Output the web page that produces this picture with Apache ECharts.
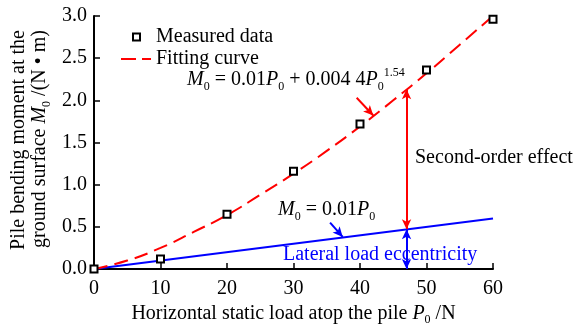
<!DOCTYPE html>
<html><head><meta charset="utf-8">
<script src="https://cdn.jsdelivr.net/npm/echarts@6/dist/echarts.min.js"></script>
<style>html,body{margin:0;padding:0;background:#fff}#c{width:574px;height:329px}</style>
</head><body><div id="c"></div>
<script>
// ---- data ----
const loadP0 = [0, 10, 20, 30, 40, 50, 60];
const measuredM0 = [0, 0.12, 0.65, 1.16, 1.72, 2.36, 2.96];
const fitP0 = [0, 5, 10, 15, 20, 25, 30, 35, 40, 45, 50, 55, 60];
const fitM0 = [0, 0.10, 0.25, 0.44, 0.64, 0.88, 1.13, 1.40, 1.69, 2.00, 2.32, 2.66, 3.00];
const eccP0 = [0, 60];
const eccM0 = [0, 0.6];
const arrowP0 = 47, arrowLow = 0.47, arrowHigh = 2.13;
const fitPointer = [[39.5, 2.03], [42, 1.82]];
const eccPointer = [[35.5, 0.55], [37.4, 0.38]];
const xTicks = {min: 0, max: 60, interval: 10};
const yTicks = {min: 0, max: 3, interval: 0.5};

const FONT = "'Liberation Serif','Times New Roman',serif";
const RED = '#ff0000', BLUE = '#0000ff';

const chart = echarts.init(document.getElementById('c'));
const zip = (a, b) => a.map((v, i) => [v, b[i]]);

const subRich = {
  i: {fontStyle: 'italic', fontSize: 20, fontFamily: FONT, lineHeight: 26, verticalAlign: 'middle'},
  n: {fontSize: 20, fontFamily: FONT, lineHeight: 26, verticalAlign: 'middle'},
  sub: {fontSize: 12, fontFamily: FONT, lineHeight: 12, verticalAlign: 'bottom'},
  sup: {fontSize: 12, fontFamily: FONT, lineHeight: 12, verticalAlign: 'top'}
};
function richFill(color) {
  const r = {};
  for (const k in subRich) r[k] = Object.assign({fill: color}, subRich[k]);
  return r;
}

const option = {
  animation: false,
  backgroundColor: '#fff',
  grid: {left: 94, right: 81, top: 16, bottom: 60, containLabel: false, outerBoundsMode: 'none'},
  xAxis: {
    type: 'value', min: xTicks.min, max: xTicks.max, interval: xTicks.interval,
    axisLine: {lineStyle: {color: '#000', width: 2}},
    axisTick: {inside: true, length: 6, lineStyle: {color: '#000', width: 1.5}},
    axisLabel: {color: '#000', fontFamily: FONT, fontSize: 20, margin: 10},
    splitLine: {show: false},
    name: '{n|Horizontal static load atop the pile }{i|P}{sub|0}{n| /N}',
    nameLocation: 'middle', nameGap: 32,
    nameTextStyle: {
      color: '#000', fontFamily: FONT, fontSize: 20,
      rich: {
        n: {fontFamily: FONT, fontSize: 20, color: '#000', lineHeight: 24, verticalAlign: 'middle'},
        i: {fontFamily: FONT, fontSize: 20, color: '#000', fontStyle: 'italic', lineHeight: 24, verticalAlign: 'middle'},
        sub: {fontFamily: FONT, fontSize: 12, color: '#000', lineHeight: 12, verticalAlign: 'bottom'}
      }
    }
  },
  yAxis: {
    type: 'value', min: yTicks.min, max: yTicks.max, interval: yTicks.interval,
    axisLine: {show: true, lineStyle: {color: '#000', width: 2}},
    axisTick: {show: true, inside: true, length: 6, lineStyle: {color: '#000', width: 1.5}},
    axisLabel: {color: '#000', fontFamily: FONT, fontSize: 20, margin: 7, formatter: v => v.toFixed(1)},
    splitLine: {show: false}
  },
  legend: [
    {
      data: [{name: 'Measured data', icon: 'rect', itemStyle: {color: '#fff', borderColor: '#000', borderWidth: 2}}],
      left: 132, top: 27, padding: 0, itemWidth: 7, itemHeight: 7,
      textStyle: {color: '#000', fontFamily: FONT, fontSize: 20, padding: [0, 0, 0, 11]}
    },
    {
      data: [{name: 'Fitting curve', icon: 'path://M0,0H15V2H0Z M21,0H30V2H21Z',
              itemStyle: {color: RED, borderWidth: 0}}],
      left: 121, top: 49, padding: 0, itemWidth: 30, itemHeight: 2,
      textStyle: {color: '#000', fontFamily: FONT, fontSize: 20, padding: [0, 0, 0, 0]}
    }
  ],
  series: [
    {
      name: 'Lateral load eccentricity', type: 'line', data: zip(eccP0, eccM0),
      showSymbol: false, symbol: 'none', lineStyle: {color: BLUE, width: 2}, z: 2,
      markLine: {
        silent: true, label: {show: false}, symbolSize: [7, 10],
        data: [
          [{coord: [arrowP0, arrowLow], symbol: 'arrow', lineStyle: {color: RED, width: 2, type: 'solid'}, itemStyle: {color: RED}},
           {coord: [arrowP0, arrowHigh], symbol: 'arrow'}],
          [{coord: [arrowP0, arrowLow], symbol: 'arrow', lineStyle: {color: BLUE, width: 2, type: 'solid'}, itemStyle: {color: BLUE}},
           {coord: [arrowP0, 0], symbol: 'arrow'}],
          [{coord: fitPointer[0], symbol: 'none', lineStyle: {color: RED, width: 2, type: 'solid'}, itemStyle: {color: RED}},
           {coord: fitPointer[1], symbol: 'arrow'}],
          [{coord: eccPointer[0], symbol: 'none', lineStyle: {color: BLUE, width: 2, type: 'solid'}, itemStyle: {color: BLUE}},
           {coord: eccPointer[1], symbol: 'arrow'}]
        ]
      }
    },
    {
      name: 'Fitting curve', type: 'line', data: zip(fitP0, fitM0), smooth: true,
      showSymbol: false, symbol: 'none', itemStyle: {color: RED},
      lineStyle: {color: RED, width: 2, type: [14, 7]}, z: 3
    },
    {
      name: 'Measured data', type: 'scatter', data: zip(loadP0, measuredM0),
      symbol: 'rect', symbolSize: 7,
      itemStyle: {color: '#fff', borderColor: '#000', borderWidth: 2, opacity: 1}, z: 5
    }
  ],
  graphic: [
    {type: 'text', x: 19, y: 140, rotation: Math.PI / 2,
     style: {text: 'Pile bending moment at the', fill: '#000', font: '20px ' + FONT, align: 'center', verticalAlign: 'middle'}},
    {type: 'text', x: 40, y: 139, rotation: Math.PI / 2,
     style: {text: '{n|ground surface }{i|M}{sub|0}{n| /(N • m)}', fill: '#000', font: '20px ' + FONT,
             align: 'center', verticalAlign: 'middle', rich: richFill('#000')}},
    {type: 'text', x: 187, y: 80,
     style: {text: '{i|M}{sub|0}{n| = 0.01}{i|P}{sub|0}{n| + 0.004 4}{i|P}{sub|0}{sup|1.54}', fill: '#000', font: '20px ' + FONT,
             align: 'left', verticalAlign: 'middle', rich: richFill('#000')}},
    {type: 'text', x: 278, y: 210,
     style: {text: '{i|M}{sub|0}{n| = 0.01}{i|P}{sub|0}', fill: '#000', font: '20px ' + FONT,
             align: 'left', verticalAlign: 'middle', rich: richFill('#000')}},
    {type: 'text', x: 415, y: 158,
     style: {text: 'Second-order effect', fill: '#000', font: '20px ' + FONT, align: 'left', verticalAlign: 'middle'}},
    {type: 'text', x: 283, y: 255,
     style: {text: 'Lateral load eccentricity', fill: BLUE, font: '20px ' + FONT, align: 'left', verticalAlign: 'middle'}}
  ]
};
chart.setOption(option);
</script></body></html>
